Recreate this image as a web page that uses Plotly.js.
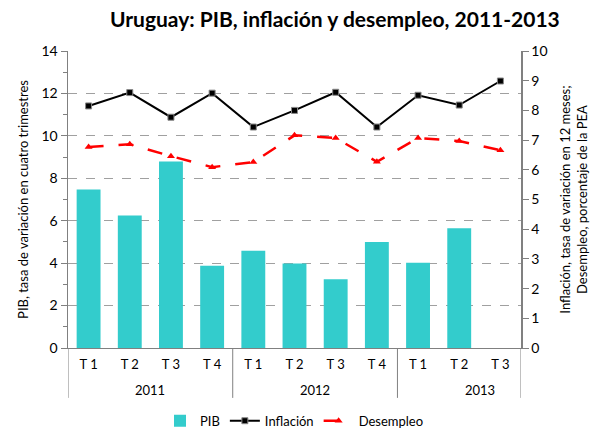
<!DOCTYPE html>
<html><head><meta charset="utf-8">
<script src="https://cdn.plot.ly/plotly-3.0.1.min.js"></script>
<style>body{margin:0;background:#fff}#c{width:598px;height:428px}</style>
</head><body><div id="c"></div>
<script>
const quarters = ['T 1','T 2','T 3','T 4','T 1','T 2','T 3','T 4','T 1','T 2','T 3'];
const years = ['2011','2012','2013'];
const yearSizes = [4,4,3];
const pib = [7.47,6.25,8.79,3.88,4.58,3.98,3.24,5.0,4.02,5.64,null];
const inflacion = [8.15,8.6,7.77,8.58,7.44,8.0,8.61,7.44,8.51,8.18,8.99];
const desempleo = [6.77,6.86,6.46,6.09,6.26,7.16,7.07,6.27,7.07,6.97,6.66];

const idx = quarters.map((_,i)=>i);
const font = 'Lato, "Open Sans", sans-serif';

const traces = [
 {type:'bar', x:idx, y:pib, name:'PIB', marker:{color:'#33CCCC', line:{width:0}}, yaxis:'y'},
 {type:'scatter', mode:'lines+markers', x:idx, y:inflacion, name:'Inflación', yaxis:'y2',
  line:{color:'#000', width:2}, marker:{symbol:'square', size:6, color:'#000', line:{color:'#888', width:1}}},
 {type:'scatter', mode:'lines+markers', x:idx, y:desempleo, name:'Desempleo', yaxis:'y2',
  line:{color:'#FF0000', width:2.5, dash:'longdash'}, marker:{symbol:'triangle-up', size:7, color:'#FF0000'}}
];

const shapes = [];
const annotations = [];
let start = 0;
const bounds = [-0.5];
years.forEach((yr,k)=>{
  const n = yearSizes[k];
  annotations.push({x:start+(n-1)/2 + (k===2?0.5:0), y:-0.143, xref:'x', yref:'paper', text:yr, showarrow:false,
    font:{family:font, size:13, color:'#000'}, xanchor:'center', yanchor:'middle'});
  start += n;
  bounds.push(k===2 ? 10.5 : start-0.5);
});
bounds.forEach(b=>shapes.push({type:'line', xref:'x', yref:'paper', x0:b, x1:b, y0:0, y1:-0.168, line:{color:'#808080', width:1}}));

const layout = {
 width:598, height:428,
 margin:{l:68, r:77, t:51, b:80, autoexpand:false},
 paper_bgcolor:'#fff', plot_bgcolor:'#fff',
 title:{text:'<b>Uruguay: PIB, inflación y desempleo, 2011-2013</b>', x:0.56, xanchor:'center', y:0.953, yanchor:'middle',
   font:{family:font, size:21, color:'#000'}},
 bargap:0.42,
 showlegend:true,
 legend:{orientation:'h', x:0.5, xanchor:'center', y:-0.245, yanchor:'middle', font:{family:font, size:13, color:'#000'},
   traceorder:'normal', itemwidth:30, tracegroupgap:0},
 xaxis:{range:[-0.5,10.5], tickvals:idx, ticktext:quarters, ticks:'', showgrid:false, zeroline:false, ticklabelstandoff:4,
   showline:true, linecolor:'#808080', linewidth:1, tickfont:{family:font, size:13, color:'#000'}, fixedrange:true},
 yaxis:{range:[0,14], dtick:2, tick0:0, ticks:'outside', ticklen:6, tickcolor:'#808080', showline:true, linecolor:'#808080', linewidth:1.5,
   showgrid:true, gridcolor:'#a0a0a0', griddash:'dash', gridwidth:1, zeroline:false,
   minor:{dtick:1, ticks:'outside', ticklen:4, tickcolor:'#808080', showgrid:false},
   tickfont:{family:font, size:14, color:'#000'},
   title:{text:'PIB, tasa de variación en cuatro trimestres', font:{family:font, size:13, color:'#000'}, standoff:10}},
 yaxis2:{range:[0,10], dtick:1, overlaying:'y', side:'right', ticks:'outside', ticklen:6, tickcolor:'#808080', showline:true, linecolor:'#808080', linewidth:1.5,
   showgrid:false, zeroline:false, tickfont:{family:font, size:14, color:'#000'},
   title:{text:'Inflación, tasa de variación en 12 meses;<br>Desempleo, porcentaje de la PEA', font:{family:font, size:13, color:'#000'}, standoff:14}},
 shapes:shapes, annotations:annotations
};
Plotly.newPlot('c', traces, layout, {displayModeBar:false, staticPlot:true});
</script></body></html>
